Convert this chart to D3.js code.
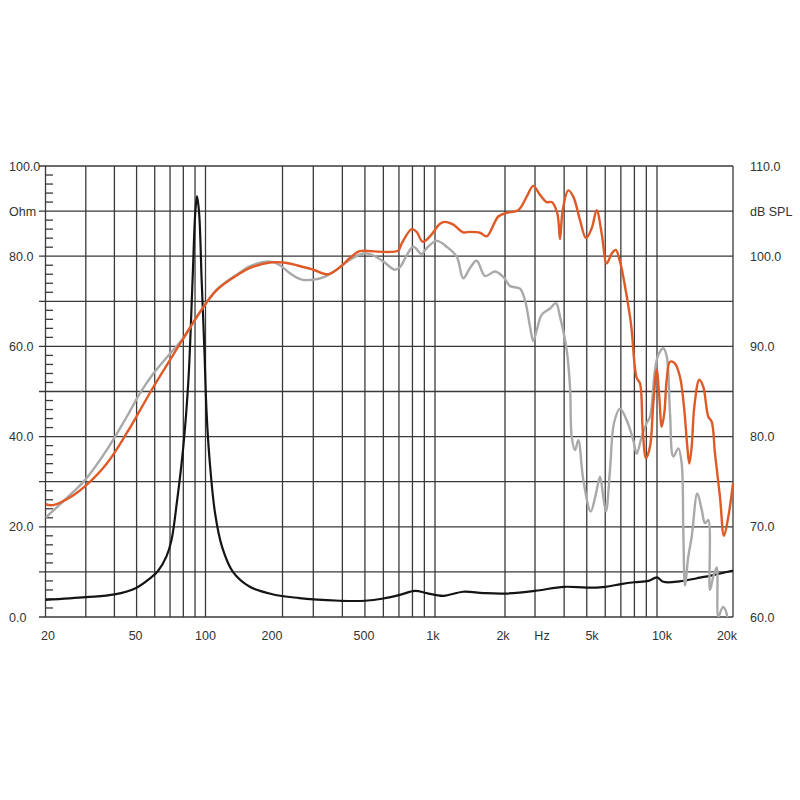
<!DOCTYPE html>
<html>
<head>
<meta charset="utf-8">
<script src="https://cdn.jsdelivr.net/npm/d3@7"></script>
<style>
  html, body { margin: 0; padding: 0; background: #ffffff; }
  svg { display: block; }
  text { font-family: "Liberation Sans", Arial, Helvetica, sans-serif; fill: #333; }
</style>
</head>
<body>
<svg id="chart" width="800" height="800"></svg>
<script>
// ---------- DATA ----------
// Impedance (Ohm) vs frequency (Hz)
const impedance = [
  [20,3.8],[30,4.4],[40,5.0],[50,6.5],[57,8.5],[62,10.2],[67.6,13.5],[71,17],[74.8,25],
  [80,37.8],[84.2,52.5],[87.8,74.7],[90.2,89.5],[91.8,93.3],[93.8,89.5],[96.2,74.7],
  [98.8,59.9],[101,45.2],[104,34.1],[109,23],[116,15.6],[128,10],[149,6.7],[184,5.0],
  [250,4.2],[300,3.9],[390,3.6],[500,3.6],[600,4.1],[707,4.9],[820,5.8],[921,5.3],
  [1086,4.7],[1323,5.6],[1613,5.3],[2000,5.2],[3000,5.8],[4000,6.7],[5000,6.5],
  [6000,6.7],[7000,7.3],[8000,7.7],[9200,8.0],[10000,8.8],[10600,7.8],[12300,7.9],
  [14400,8.6],[16700,9.3],[20000,10.3]
];
// SPL on axis (dB) – orange
const splOnAxis = [
  [20,72.5],[21.6,72.4],[26.5,73.5],[29.8,74.5],[37,77],[45.3,80.4],[51.7,82.9],[59.2,85.5],
  [70,88.5],[80,90.9],[94.6,93.8],[110.6,96.25],[136.4,98.1],[149.3,98.7],[178.7,99.3],
  [202,99.3],[241,99.0],[300,98.5],[348,98.0],[391,98.8],[431,99.8],[468,100.5],[490,100.6],
  [693,100.6],[719,101.4],[794,103.0],[834,102.7],[885,101.6],[952,102.2],[1051,103.6],
  [1104,103.8],[1199,103.5],[1323,102.65],[1414,102.7],[1561,102.6],[1668,102.2],[1872,104.4],
  [2046,104.8],[2394,105.1],[2682,106.6],[2932,107.8],[3152,106.8],[3367,106.0],[3538,106.0],
  [3739,104.75],[3839,101.9],[3943,105.1],[4167,107.3],[4378,106.6],[4677,104.0],[4963,102.0],
  [5250,103.1],[5515,105.1],[5795,102.5],[6088,99.2],[6396,100.3],[6653,100.7],[6941,99.4],
  [7171,97.7],[7661,93.3],[7791,91.8],[8185,86.5],[8456,85.9],[8685,80.7],[8972,77.6],
  [9334,78.9],[9643,83.7],[9971,87.4],[10212,84.4],[10438,81.1],[10689,82.6],[10925,86.3],
  [11259,88.3],[11784,88.1],[12334,86.6],[12792,83.3],[13183,78.9],[13426,77.0],[13723,78.9],
  [14052,83.3],[14708,86.3],[15255,85.5],[15967,82.2],[16469,81.65],[16972,78.1],[17764,73.3],
  [18423,69.0],[19161,71.1],[20000,74.8]
];
// SPL off axis (dB) – grey
const splOffAxis = [
  [20,71.0],[26.5,73.9],[29.8,75.2],[37,78.5],[45.3,82.2],[51.7,84.8],[59.2,87.0],[70,89.2],
  [80,90.9],[94.6,93.8],[110.6,96.3],[136.4,98.2],[149.3,98.9],[178.7,99.4],[195.5,99.0],
  [220.7,98.1],[257.5,97.4],[300,97.4],[331,97.65],[378,98.5],[431,99.6],[492,100.3],
  [543,100.1],[600,99.4],[673,98.5],[707,98.8],[756,100.1],[807,101.05],[877,100.25],
  [921,100.9],[1017,101.7],[1123,101.05],[1240,99.95],[1323,97.55],[1414,98.7],[1511,99.5],
  [1641,97.8],[1812,98.3],[1967,97.7],[2140,96.7],[2449,96.4],[2621,95.1],[2804,92.2],
  [2932,90.6],[3051,91.8],[3205,93.5],[3479,94.2],[3691,94.8],[3839,93.3],[4102,89.6],
  [4238,85.5],[4310,80.0],[4452,78.5],[4600,79.6],[4832,75.2],[5198,71.7],[5477,73.7],
  [5698,75.55],[5886,73.3],[6045,71.7],[6289,76.3],[6542,81.5],[6941,83.1],[7416,81.8],
  [7915,79.6],[8185,78.1],[8600,80.0],[9035,81.5],[9334,82.2],[9806,87.4],[10119,89.05],
  [10592,89.8],[10925,88.9],[11259,82.6],[11603,77.8],[12145,78.7],[12527,77.0],[12711,69.6],
  [12910,63.5],[13304,66.7],[13723,68.9],[14442,73.7],[15033,71.9],[15493,70.4],[15967,70.75],
  [16216,63.0],[16717,64.5],[17245,65.5],[17499,60.0],[18215,61.1],[18770,60.6],[19205,58]
];

// Grid / ticks
const gridFreqs = [20,30,40,50,60,70,80,90,100,200,300,400,500,600,700,800,900,
                   1000,2000,3000,4000,5000,6000,7000,8000,9000,10000,20000];
const xTickLabels = ["20","50","100","200","500","1k","2k","Hz","5k","10k","20k"];
const xTickLabelFreqs = [20.5,49.5,100,182,495,980,1961,3215,5265,10467,18935];
const ohmGrid = [0,10,20,30,40,50,60,70,80,90,100];
const ohmLabels = ["0.0","20.0","40.0","60.0","80.0","Ohm","100.0"];
const ohmLabelValues = [0,20,40,60,80,90,100];
const dbLabels = ["60.0","70.0","80.0","90.0","100.0","dB SPL","110.0"];
const dbLabelValues = [60,70,80,90,100,105,110];
const ohmMinor = d3.range(0, 101, 2).filter(v => v % 10 !== 0);

// ---------- SCALES ----------
const L = 45.5, R = 733, T = 166, B = 617;
// The printed frequency grid is not perfectly uniform; piecewise log scale follows it
const x = d3.scaleLog()
  .domain([20, 100, 200, 300, 1000, 2000, 3000, 10000, 20000])
  .range([L, 205.5, 282.5, 313.3, 435, 505, 535, 657, R]);
const yOhm = d3.scaleLinear().domain([0, 100]).range([B, T]);
const yDb = d3.scaleLinear().domain([60, 110]).range([B, T]);

const svg = d3.select("#chart");
const gridColor = "#3a3a3a";

// ---------- GRID ----------
const grid = svg.append("g");
grid.selectAll("line.v").data(gridFreqs).join("line")
  .attr("class", "v")
  .attr("x1", d => x(d)).attr("x2", d => x(d))
  .attr("y1", T).attr("y2", B)
  .attr("stroke", gridColor).attr("stroke-width", 1.3);
grid.selectAll("line.h").data(ohmGrid).join("line")
  .attr("class", "h")
  .attr("x1", L - 6.5).attr("x2", R)
  .attr("y1", d => yOhm(d)).attr("y2", d => yOhm(d))
  .attr("stroke", gridColor).attr("stroke-width", 1.3);
grid.selectAll("line.m").data(ohmMinor).join("line")
  .attr("class", "m")
  .attr("x1", L).attr("x2", L + 7.5)
  .attr("y1", d => yOhm(d)).attr("y2", d => yOhm(d))
  .attr("stroke", gridColor).attr("stroke-width", 1.3);

// ---------- LABELS ----------
const fs = "12.5px";
svg.append("g").selectAll("text").data(ohmLabels).join("text")
  .attr("x", 9)
  .attr("y", (d, i) => yOhm(ohmLabelValues[i]))
  .attr("dy", "0.36em")
  .attr("font-size", fs)
  .text(d => d);
svg.append("g").selectAll("text").data(dbLabels).join("text")
  .attr("x", 750)
  .attr("y", (d, i) => yDb(dbLabelValues[i]))
  .attr("dy", "0.36em")
  .attr("font-size", fs)
  .text(d => d);
svg.append("g").selectAll("text").data(xTickLabels).join("text")
  .attr("x", (d, i) => x(xTickLabelFreqs[i]))
  .attr("y", 635)
  .attr("dy", "0.36em")
  .attr("text-anchor", "middle")
  .attr("font-size", fs)
  .text(d => d);

// ---------- CURVES ----------
svg.append("clipPath").attr("id", "plotclip")
  .append("rect").attr("x", L).attr("y", T - 5).attr("width", R - L + 3).attr("height", B - T + 5);

const curves = svg.append("g").attr("clip-path", "url(#plotclip)");
const smooth = d3.curveCatmullRom.alpha(0.5);
const lineOhm = d3.line().x(d => x(d[0])).y(d => yOhm(d[1])).curve(smooth);
const lineDb = d3.line().x(d => x(d[0])).y(d => yDb(d[1])).curve(smooth);

curves.append("path").datum(impedance)
  .attr("d", lineOhm).attr("fill", "none")
  .attr("stroke", "#141414").attr("stroke-width", 2.2).attr("stroke-linejoin", "round");
curves.append("path").datum(splOffAxis)
  .attr("d", lineDb).attr("fill", "none")
  .attr("stroke", "#a9a9a9").attr("stroke-width", 2.4).attr("stroke-linejoin", "round");
curves.append("path").datum(splOnAxis)
  .attr("d", lineDb).attr("fill", "none")
  .attr("stroke", "#df5a26").attr("stroke-width", 2.4).attr("stroke-linejoin", "round");
</script>
</body>
</html>
